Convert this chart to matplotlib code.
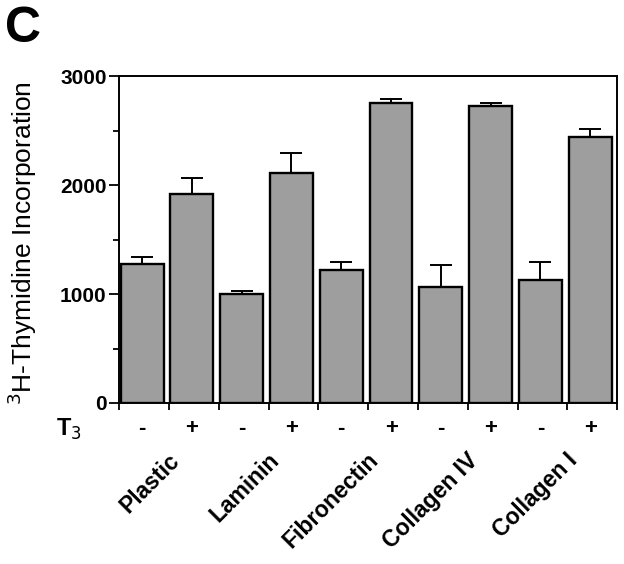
import matplotlib.pyplot as plt
import numpy as np

plt.rcParams['font.family'] = ['Liberation Sans', 'DejaVu Sans']

# data
substrates = ["Plastic", "Laminin", "Fibronectin", "Collagen IV", "Collagen I"]
t3_labels = ["-", "+", "-", "+", "-", "+", "-", "+", "-", "+"]
means = [1278, 1917, 1000, 2107, 1220, 2749, 1067, 2728, 1128, 2443]
errors = [60, 145, 30, 190, 77, 40, 196, 27, 166, 74]

fig = plt.figure(figsize=(6.24, 5.64), dpi=100)
ax = fig.add_axes([0.191, 0.2855, 0.798, 0.5795])

x = np.arange(len(means)) + 0.46
ax.bar(x, means, width=0.86, color='#9e9e9e', edgecolor='black', linewidth=1.7,
       zorder=2)
ax.errorbar(x, means, yerr=[np.zeros(len(errors)), errors], fmt='none',
            ecolor='black', elinewidth=1.4, capsize=8, capthick=1.4, zorder=1)

ax.set_xlim(0, len(means))
ax.set_ylim(0, 3000)

# y axis
ax.set_yticks([0, 1000, 2000, 3000])
ax.set_yticks([500, 1500, 2500], minor=True)
ax.set_yticklabels(['0', '1000', '2000', '3000'], fontsize=15, fontweight='bold')
ax.tick_params(axis='y', which='major', direction='out', length=7, width=1.3, pad=2)
ax.tick_params(axis='y', which='minor', direction='out', length=4, width=1.3)
ax.set_ylabel('$^{3}$H-Thymidine Incorporation', fontsize=19, va='center')
ax.yaxis.set_label_coords(-0.195, 0.49)

# x axis: ticks at slot boundaries, labels drawn by hand
ax.set_xticks(np.arange(0, len(means) + 1))
ax.set_xticklabels([])
ax.tick_params(axis='x', direction='out', length=5, width=1.3)

for s in ax.spines.values():
    s.set_linewidth(1.4)

# T3 row
trans = ax.get_xaxis_transform()
ax.text(-1.0, -0.08, 'T$_3$', transform=trans, fontsize=17, fontweight='bold',
        ha='center', va='center', clip_on=False)
for xi, lab in zip(x, t3_labels):
    ax.text(xi, -0.078, lab, transform=trans, fontsize=16, fontweight='bold',
            ha='center', va='center', clip_on=False)

# substrate labels
for i, name in enumerate(substrates):
    ax.text(2 * i + 0.97, -0.14, name, transform=trans, fontsize=16.5,
            fontweight='bold', rotation=45, ha='right', va='top',
            rotation_mode='anchor', clip_on=False)

fig.text(0.008, 0.99, 'C', fontsize=36, fontweight='bold', ha='left', va='top')

fig.savefig('out.png', dpi=100)
